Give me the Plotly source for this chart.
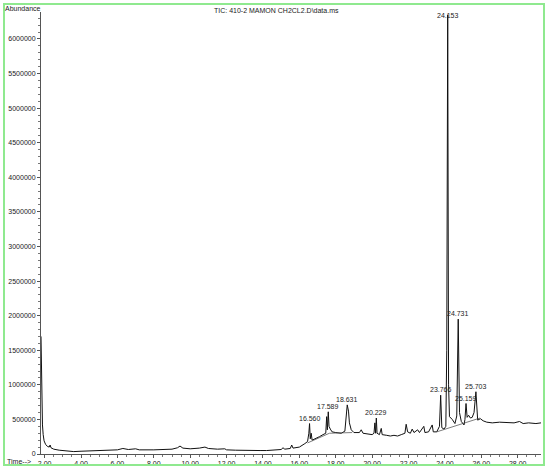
import plotly.graph_objects as go

# Retention time (min) and abundance
time = [1.80, 1.82, 1.85, 1.88, 1.92, 1.97, 2.05, 2.15, 2.25, 2.30, 2.35, 2.50, 2.80, 3.20, 3.60,
        4.00, 4.50, 5.00, 5.50, 6.00, 6.30, 6.60, 7.00, 7.20, 8.00, 8.50, 9.00, 9.30, 9.44, 9.60,
        10.00, 10.50, 10.81, 11.00, 11.50, 11.90, 12.00, 12.50, 13.00, 13.50, 13.84, 14.20, 14.60,
        15.00, 15.10, 15.20, 15.50, 15.58, 15.65, 16.00, 16.30, 16.45, 16.52, 16.56, 16.60, 16.65,
        16.70, 16.90, 17.10, 17.30, 17.45, 17.50, 17.54, 17.589, 17.63, 17.70, 17.80, 18.00, 18.30,
        18.50, 18.55, 18.60, 18.631, 18.70, 18.75, 18.85, 19.00, 19.30, 19.40, 19.50, 19.80, 20.00,
        20.10, 20.15, 20.19, 20.229, 20.27, 20.40, 20.50, 20.55, 20.80, 21.00, 21.20, 21.40, 21.60,
        21.80, 21.87, 21.95, 22.10, 22.20, 22.30, 22.50, 22.60, 22.84, 22.90, 23.10, 23.30, 23.36,
        23.55, 23.70, 23.766, 23.83, 23.95, 24.05, 24.10, 24.153, 24.20, 24.25, 24.40, 24.55, 24.65,
        24.731, 24.80, 24.90, 25.05, 25.10, 25.159, 25.22, 25.30, 25.40, 25.50, 25.60, 25.703, 25.80,
        25.95, 26.10, 26.30, 26.60, 27.00, 27.40, 27.80, 28.10, 28.30, 28.60, 29.00, 29.28]
abundance = [1700000, 1100000, 650000, 420000, 280000, 190000, 140000, 110000, 100000, 130000,
             90000, 70000, 55000, 45000, 35000, 40000, 45000, 50000, 55000, 60000, 80000, 65000,
             75000, 60000, 60000, 65000, 70000, 90000, 115000, 85000, 75000, 85000, 100000, 80000,
             70000, 75000, 60000, 55000, 50000, 45000, 50000, 50000, 60000, 65000, 90000, 70000,
             80000, 130000, 85000, 100000, 150000, 180000, 300000, 440000, 220000, 300000, 200000,
             220000, 250000, 280000, 300000, 540000, 350000, 610000, 400000, 360000, 320000, 310000,
             300000, 330000, 520000, 680000, 710000, 620000, 450000, 350000, 310000, 310000, 350000,
             300000, 290000, 280000, 300000, 450000, 300000, 520000, 300000, 280000, 370000, 280000,
             270000, 260000, 270000, 260000, 280000, 300000, 430000, 320000, 300000, 360000, 310000,
             350000, 310000, 400000, 310000, 320000, 420000, 320000, 320000, 400000, 850000, 380000,
             360000, 400000, 1500000, 6350000, 1000000, 540000, 500000, 440000, 550000, 1950000,
             600000, 470000, 420000, 500000, 730000, 530000, 560000, 520000, 530000, 600000, 900000,
             490000, 510000, 480000, 460000, 450000, 460000, 450000, 450000, 470000, 440000, 450000,
             440000, 450000]

# Integration baselines drawn under the peak clusters
base1_time = [16.45, 17.65, 18.90]
base1_abund = [160000, 300000, 310000]
base2_time = [23.55, 25.93]
base2_abund = [320000, 520000]

# Labelled peaks
peak_labels = ["16.560", "17.589", "18.631", "20.229", "23.766", "24.731", "25.159", "25.703"]
peak_time = [16.56, 17.589, 18.631, 20.229, 23.766, 24.731, 25.159, 25.703]
peak_abund = [440000, 610000, 710000, 520000, 850000, 1950000, 730000, 900000]

x_ticks = [2, 4, 6, 8, 10, 12, 14, 16, 18, 20, 22, 24, 26, 28]
y_ticks = [0, 500000, 1000000, 1500000, 2000000, 2500000, 3000000, 3500000, 4000000,
           4500000, 5000000, 5500000, 6000000]

FONT = "Liberation Sans, Arial, sans-serif"
INK = "#222222"
FS = 7

fig = go.Figure()
fig.add_trace(go.Scatter(x=time, y=abundance, mode="lines",
                         line=dict(color="#111111", width=1), hoverinfo="skip"))
fig.add_trace(go.Scatter(x=base1_time, y=base1_abund, mode="lines",
                         line=dict(color="#444444", width=0.7), hoverinfo="skip"))
fig.add_trace(go.Scatter(x=base2_time, y=base2_abund, mode="lines",
                         line=dict(color="#444444", width=0.7), hoverinfo="skip"))

ann = []
for lab, t, a in zip(peak_labels, peak_time, peak_abund):
    ann.append(dict(x=t, y=a, xref="x", yref="y", text=lab, showarrow=False,
                    xanchor="center", yanchor="bottom", yshift=0,
                    font=dict(family=FONT, size=FS, color=INK)))
# top peak label (peak runs off the top)
ann.append(dict(x=24.153, y=6340000, xref="x", yref="y", text="24.153", showarrow=False,
                xanchor="center", yanchor="middle",
                font=dict(family=FONT, size=FS, color=INK)))

L, R, T, B = 41, 9, 12, 16
PW, PH = 550 - L - R, 470 - T - B


def px(xp):
    return (xp - L) / PW


def py(yp):
    return (470 - B - yp) / PH


ann.append(dict(x=px(276), y=py(10), xref="paper", yref="paper",
                text="TIC: 410-2 MAMON CH2CL2.D\\data.ms", showarrow=False,
                xanchor="center", yanchor="middle",
                font=dict(family=FONT, size=FS, color=INK)))
ann.append(dict(x=px(3), y=py(8), xref="paper", yref="paper", text="Abundance",
                showarrow=False, xanchor="left", yanchor="middle",
                font=dict(family=FONT, size=FS, color=INK)))
ann.append(dict(x=px(5), y=py(461), xref="paper", yref="paper", text="Time-->",
                showarrow=False, xanchor="left", yanchor="middle",
                font=dict(family=FONT, size=FS, color=INK)))

fig.update_layout(
    width=550, height=470,
    margin=dict(l=L, r=R, t=T, b=B, autoexpand=False),
    paper_bgcolor="white", plot_bgcolor="white",
    showlegend=False,
    annotations=ann,
    shapes=[dict(type="rect", xref="paper", yref="paper",
                 x0=px(4), x1=px(544), y0=py(465), y1=py(4),
                 line=dict(color="#8fe98f", width=2))],
)
fig.update_xaxes(range=[1.8, 29.28], tickvals=x_ticks, tickformat=".2f",
                 showgrid=False, zeroline=False, showline=True, linecolor="#555555",
                 linewidth=1, ticks="outside", ticklen=3, tickcolor="#555555",
                 minor=dict(dtick=0.5, tick0=0, ticks="outside", ticklen=2, tickcolor="#777777"),
                 tickfont=dict(family=FONT, size=FS, color=INK), automargin=False)
fig.update_yaxes(range=[0, 6390000], tickvals=y_ticks, tickformat="d",
                 showgrid=False, zeroline=False, showline=True, linecolor="#555555",
                 linewidth=1, ticks="outside", ticklen=3, tickcolor="#555555",
                 minor=dict(dtick=100000, tick0=0, ticks="outside", ticklen=2, tickcolor="#777777"),
                 tickfont=dict(family=FONT, size=FS, color=INK), automargin=False)

fig.write_html("out.html", config={"displayModeBar": False, "staticPlot": True},
               post_script="document.body.style.margin='0px';document.body.style.overflow='hidden';")
